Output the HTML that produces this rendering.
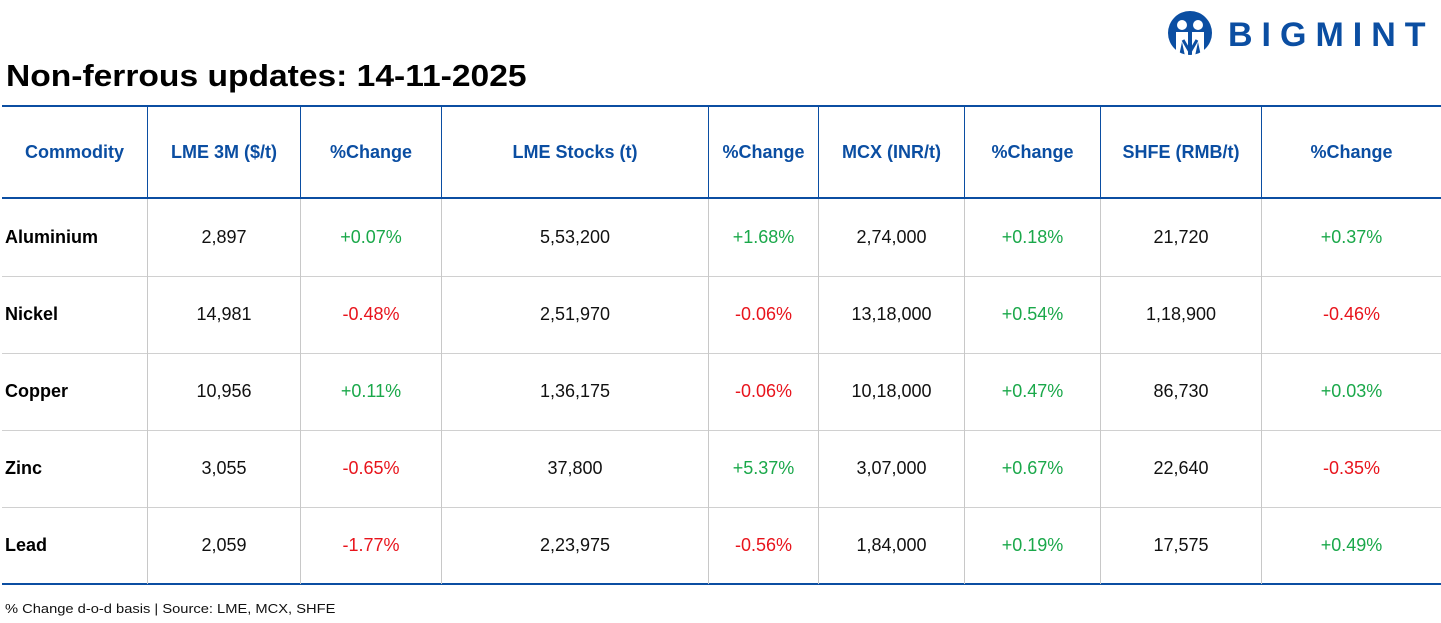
<html><head><style>
body{margin:0;width:1441px;height:623px;background:#fff;position:relative;font-family:"Liberation Sans",sans-serif;overflow:hidden}
.t{position:absolute;left:6px;top:58px;font-size:31px;font-weight:bold;color:#000;transform-origin:0 0;transform:scaleX(1.083);white-space:nowrap}
.hl{position:absolute;left:2px;width:1439px;height:2px;background:#0b4ea2}
.gl{position:absolute;left:2px;width:1439px;height:1px;background:#d0d0d0}
.vb{position:absolute;top:106px;height:92px;width:1px;background:#0b4ea2}
.vg{position:absolute;top:199px;height:385px;width:1px;background:#c8c8c8}
.c{position:absolute;height:77px;line-height:77px;text-align:center;font-size:18px;color:#111}
.h{color:#0b4ea2;font-weight:bold;height:92px;line-height:92px;top:106px;font-size:18px}
.n{text-align:left;font-weight:bold;color:#000}
.g{color:#1aa84a}.r{color:#e8141c}
.f{position:absolute;left:5px;top:601px;font-size:13px;color:#111;transform-origin:0 0;transform:scaleX(1.13);white-space:nowrap}
</style></head><body>
<svg style="position:absolute;left:1165px;top:10px" width="50" height="46" viewBox="0 0 50 46">
<circle cx="25" cy="23" r="22" fill="#0b4ea2"/>
<circle cx="17" cy="15" r="5" fill="#fff"/><circle cx="33" cy="15" r="5" fill="#fff"/>
<path d="M11 22h12v24h-3l-3-14-3 14h-3z M27 22h12v24h-3l-3-14-3 14h-3z" fill="#fff"/>
<path d="M18 30l7 12 7-12" stroke="#0b4ea2" stroke-width="3" fill="none"/>
</svg>
<div style="position:absolute;left:1228px;top:16px;font-size:34px;font-weight:bold;color:#0b4ea2;letter-spacing:9px;white-space:nowrap">BIGMINT</div>
<div class="t">Non-ferrous updates: 14-11-2025</div>
<div class="hl" style="top:105px"></div>
<div class="hl" style="top:197px"></div>
<div class="gl" style="top:276px"></div>
<div class="gl" style="top:353px"></div>
<div class="gl" style="top:430px"></div>
<div class="gl" style="top:507px"></div>
<div class="hl" style="top:583px"></div>
<div class="vb" style="left:147px"></div><div class="vb" style="left:300px"></div><div class="vb" style="left:441px"></div><div class="vb" style="left:708px"></div><div class="vb" style="left:818px"></div><div class="vb" style="left:964px"></div><div class="vb" style="left:1100px"></div><div class="vb" style="left:1261px"></div>
<div class="vg" style="left:147px"></div><div class="vg" style="left:300px"></div><div class="vg" style="left:441px"></div><div class="vg" style="left:708px"></div><div class="vg" style="left:818px"></div><div class="vg" style="left:964px"></div><div class="vg" style="left:1100px"></div><div class="vg" style="left:1261px"></div>
<div class="c h" style="left:2px;width:145px">Commodity</div>
<div class="c h" style="left:148px;width:152px">LME 3M ($/t)</div>
<div class="c h" style="left:301px;width:140px">%Change</div>
<div class="c h" style="left:442px;width:266px">LME Stocks (t)</div>
<div class="c h" style="left:709px;width:109px">%Change</div>
<div class="c h" style="left:819px;width:145px">MCX (INR/t)</div>
<div class="c h" style="left:965px;width:135px">%Change</div>
<div class="c h" style="left:1101px;width:160px">SHFE (RMB/t)</div>
<div class="c h" style="left:1262px;width:179px">%Change</div>
<div id="rows"></div>
<script>
var d=[["Aluminium","2,897","+0.07%","5,53,200","+1.68%","2,74,000","+0.18%","21,720","+0.37%"],
["Nickel","14,981","-0.48%","2,51,970","-0.06%","13,18,000","+0.54%","1,18,900","-0.46%"],
["Copper","10,956","+0.11%","1,36,175","-0.06%","10,18,000","+0.47%","86,730","+0.03%"],
["Zinc","3,055","-0.65%","37,800","+5.37%","3,07,000","+0.67%","22,640","-0.35%"],
["Lead","2,059","-1.77%","2,23,975","-0.56%","1,84,000","+0.19%","17,575","+0.49%"]];
var L=[5,148,301,442,709,819,965,1101,1262],W=[140,152,140,266,109,145,135,160,179],h="";
d.forEach(function(r,i){var top=199+i*77;r.forEach(function(v,j){var cl="c";if(j==0)cl+=" n";else if(j%2==0)cl+=v[0]=="+"?" g":" r";h+='<div class="'+cl+'" style="top:'+top+'px;left:'+L[j]+'px;width:'+W[j]+'px">'+v+'</div>';});});
document.getElementById("rows").innerHTML=h;
</script>
<div class="f">% Change d-o-d basis | Source: LME, MCX, SHFE</div>
</body></html>
